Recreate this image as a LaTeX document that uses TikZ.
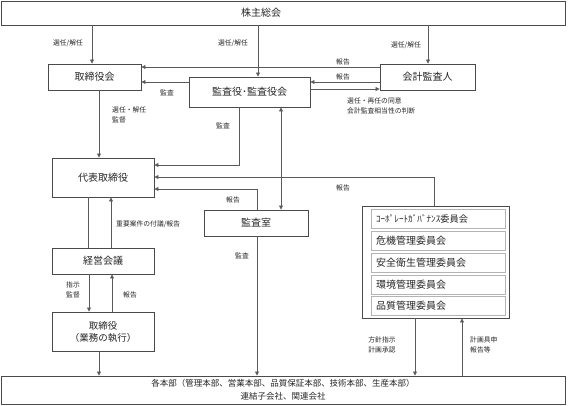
\documentclass[tikz,border=0pt]{standalone}
\usepackage{fontspec}
\setmainfont{Noto Sans CJK JP}
\usetikzlibrary{arrows.meta}
\definecolor{ln}{HTML}{5A5A5A}
\definecolor{bd}{HTML}{4A4A4A}
\definecolor{lg}{HTML}{B4B4B4}
\definecolor{tx}{HTML}{262626}
\tikzset{
  box/.style={draw=bd, line width=0.9pt, rectangle, inner sep=0pt, font=\fontsize{10}{12}\selectfont, text=tx, align=center},
  row/.style={draw=lg, line width=0.8pt, rectangle, inner sep=0pt, minimum width=134pt, minimum height=19pt, font=\fontsize{10}{12}\selectfont, text=tx, text width=124pt, align=left},
  lbl/.style={inner sep=0pt, font=\fontsize{6.8}{9.5}\selectfont, text=black!85, align=left},
  arr/.style={draw=ln, line width=0.8pt, -{Triangle[length=4pt,width=4pt]}},
  arrb/.style={draw=ln, line width=0.8pt, {Triangle[length=4pt,width=4pt]}-{Triangle[length=4pt,width=4pt]}},
  plain/.style={draw=ln, line width=0.8pt}
}
\begin{document}
\begin{tikzpicture}[x=1pt,y=-1pt]
\useasboundingbox (0,0) rectangle (568,406);
% boxes
\node[box, minimum width=564pt, minimum height=24pt] (kabu) at (283,13) {};
\node[inner sep=0pt, text=tx, font=\fontsize{10}{12}\selectfont] (kabut) at (261,13) {株主総会};
\node[box, minimum width=93pt, minimum height=26pt] (tori) at (94.5,77) {取締役会};
\node[box, minimum width=95pt, minimum height=26pt] (kaikei) at (427.5,77) {会計監査人};
\node[box, minimum width=121pt, minimum height=30pt] (kansa) at (249.5,92) {監査役･監査役会};
\node[box, minimum width=102pt, minimum height=39pt] (daihyo) at (103,177.5) {代表取締役};
\node[box, minimum width=102pt, minimum height=26pt] (keiei) at (103,261) {経営会議};
\node[box, minimum width=102pt, minimum height=39pt, font=\fontsize{9.5}{12}\selectfont] (torigyo) at (103,331.5) {取締役\\（業務の執行）};
\node[box, minimum width=104pt, minimum height=26pt] (shitsu) at (256,223) {監査室};
\node[box, minimum width=147pt, minimum height=112pt] (com) at (435.5,262) {};
\node[row, font=\fontsize{9.2}{12}\selectfont] (r1) at (438,219) {ｺｰﾎﾟﾚｰﾄｶﾞﾊﾞﾅﾝｽ委員会};
\node[row] (r2) at (438,241) {危機管理委員会};
\node[row] (r3) at (438,263) {安全衛生管理委員会};
\node[row] (r4) at (438,285) {環境管理委員会};
\node[row] (r5) at (438,306) {品質管理委員会};
\node[box, minimum width=564pt, minimum height=28pt, font=\fontsize{8.5}{13}\selectfont] (hon) at (283,390) {各本部（管理本部、営業本部、品質保証本部、技術本部、生産本部）\\連結子会社、関連会社};
% connectors
\draw[arr] (92,0 |- kabu.south) -- (92,0 |- tori.north);
\draw[arr] (258,0 |- kabu.south) -- (258,0 |- kansa.north);
\draw[arr] (428,0 |- kabu.south) -- (428,0 |- kaikei.north);
\draw[arr] (kaikei.west |- 0,67) -- (tori.east |- 0,67);
\draw[arr] (kaikei.west |- 0,82) -- (kansa.east |- 0,82);
\draw[arr] (kansa.east |- 0,89) -- (kaikei.west |- 0,89);
\draw[arr] (kansa.west |- 0,82) -- (tori.east |- 0,82);
\draw[arr] (99,0 |- tori.south) -- (99,0 |- daihyo.north);
\draw[arr] (239,0 |- kansa.south) |- (daihyo.east |- 0,165);
\draw[arrb] (281,0 |- kansa.south) -- (281,0 |- shitsu.north);
\draw[arr] (434,0 |- com.north) |- (daihyo.east |- 0,177);
\draw[arr] (257,0 |- shitsu.north) |- (daihyo.east |- 0,189);
\draw[plain] (88,0 |- daihyo.south) -- (88,0 |- keiei.north);
\draw[arr] (111,0 |- keiei.north) -- (111,0 |- daihyo.south);
\draw[arr] (89,0 |- keiei.south) -- (89,0 |- torigyo.north);
\draw[arr] (112,0 |- torigyo.north) -- (112,0 |- keiei.south);
\draw[arr] (99,0 |- torigyo.south) -- (99,0 |- hon.north);
\draw[arr] (257,0 |- shitsu.south) -- (257,0 |- hon.north);
\draw[arr] (415,0 |- com.south) -- (415,0 |- hon.north);
\draw[arr] (462,0 |- hon.north) -- (462,0 |- com.south);
% labels
\node[lbl] (l1) at (68,43) {選任/解任};
\node[lbl] (l2) at (233,43) {選任/解任};
\node[lbl] (l3) at (406,45) {選任/解任};
\node[lbl] (l4) at (343,62) {報告};
\node[lbl] (l5) at (343,77) {報告};
\node[lbl] (l6) at (167,93) {監査};
\node[lbl, anchor=north west] (l7) at (347,98) {選任・再任の同意\\会計監査相当性の判断};
\node[lbl, anchor=north west] (l8) at (112,107) {選任・解任\\監督};
\node[lbl] (l9) at (223,126) {監査};
\node[lbl] (l10) at (343,188) {報告};
\node[lbl] (l11) at (233,200) {報告};
\node[lbl, anchor=west] (l12) at (116,224) {重要案件の付議/報告};
\node[lbl] (l13) at (242,256) {監査};
\node[lbl, align=center] (l14) at (73,290) {指示\\監督};
\node[lbl] (l15) at (130,295) {報告};
\node[lbl, align=center] (l16) at (382,345) {方針指示\\計画承認};
\node[lbl, anchor=west] (l17) at (470,345) {計画具申\\報告等};
\end{tikzpicture}
\end{document}
